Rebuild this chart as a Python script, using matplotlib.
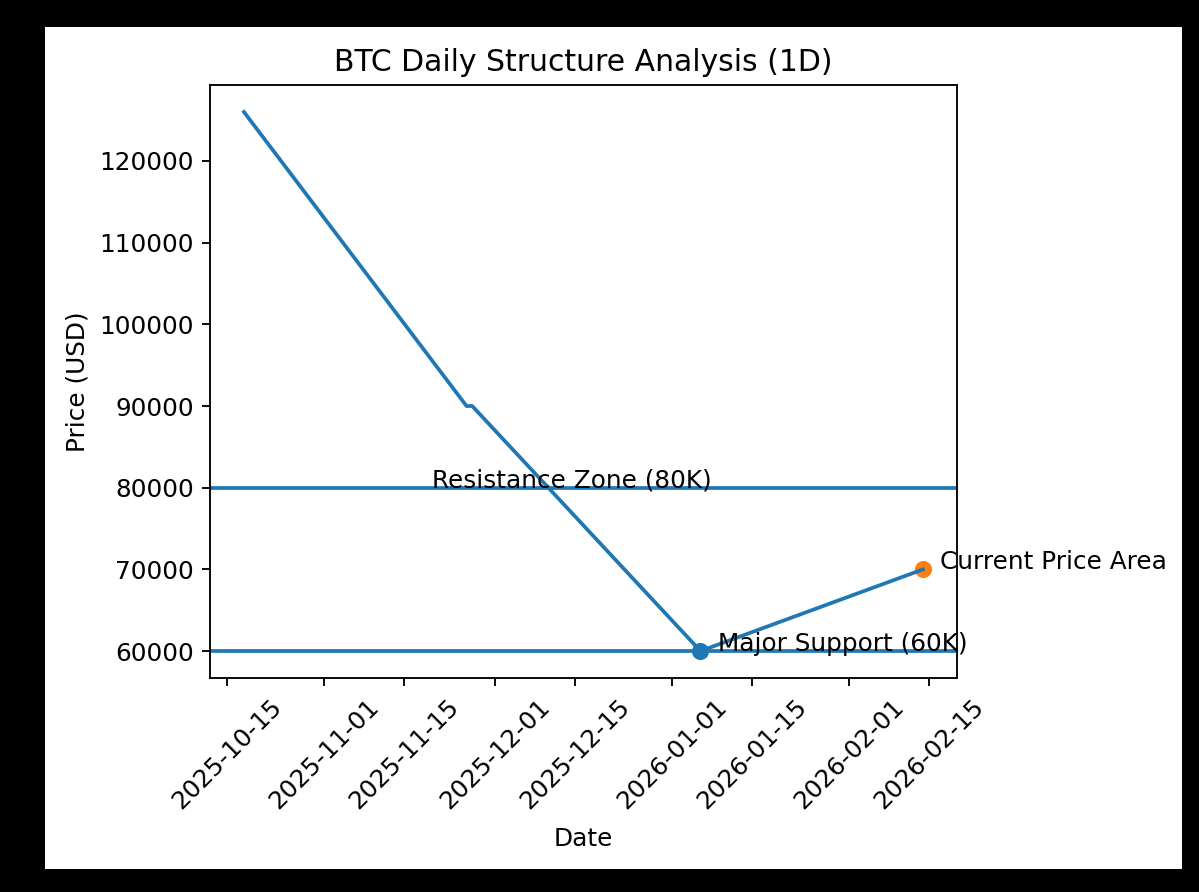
import matplotlib
matplotlib.use("Agg")
import matplotlib.pyplot as plt
import numpy as np
from matplotlib.patches import Rectangle

# Data
dates = np.array(["2025-10-18", "2025-11-26", "2025-11-27", "2026-01-06", "2026-02-14"], dtype="datetime64[D]")
prices = [126000, 90000, 90000, 60000, 70000]
support_level = 60000
resistance_level = 80000
support_point = (np.datetime64("2026-01-06"), 60000)
current_point = (np.datetime64("2026-02-14"), 70000)
label_resistance = (np.datetime64("2025-11-20"), 80000, "Resistance Zone (80K)")
label_support = (np.datetime64("2026-01-09"), 60000, "Major Support (60K)")
label_current = (np.datetime64("2026-02-17"), 70000, "Current Price Area")

plt.rcParams["font.size"] = 10.6

W, H, DPI = 1199, 892, 168
fig = plt.figure(figsize=(W / DPI, H / DPI), dpi=DPI, facecolor="black")
fig.patches.append(Rectangle((45 / W, (H - 869) / H), 1137 / W, 842 / H,
                             transform=fig.transFigure, facecolor="white",
                             edgecolor="none", zorder=-10))

ax = fig.add_axes([210 / W, (H - 678) / H, (957 - 210) / W, (678 - 85) / H])
ax.plot(dates, prices, color="C0", lw=1.6)
ax.axhline(resistance_level, color="C0", lw=1.6)
ax.axhline(support_level, color="C0", lw=1.6)
ax.scatter([support_point[0]], [support_point[1]], color="C0", s=40)
ax.scatter([current_point[0]], [current_point[1]], color="C1", s=40)
for x, y, t in (label_resistance, label_support, label_current):
    ax.text(x, y, t)

ax.set_title("BTC Daily Structure Analysis (1D)", fontsize=12.8)
ax.set_xlabel("Date", labelpad=6)
ax.set_ylabel("Price (USD)")
plt.setp(ax.get_xticklabels(), rotation=45)

fig.savefig("out.png", dpi=DPI, facecolor="black")
